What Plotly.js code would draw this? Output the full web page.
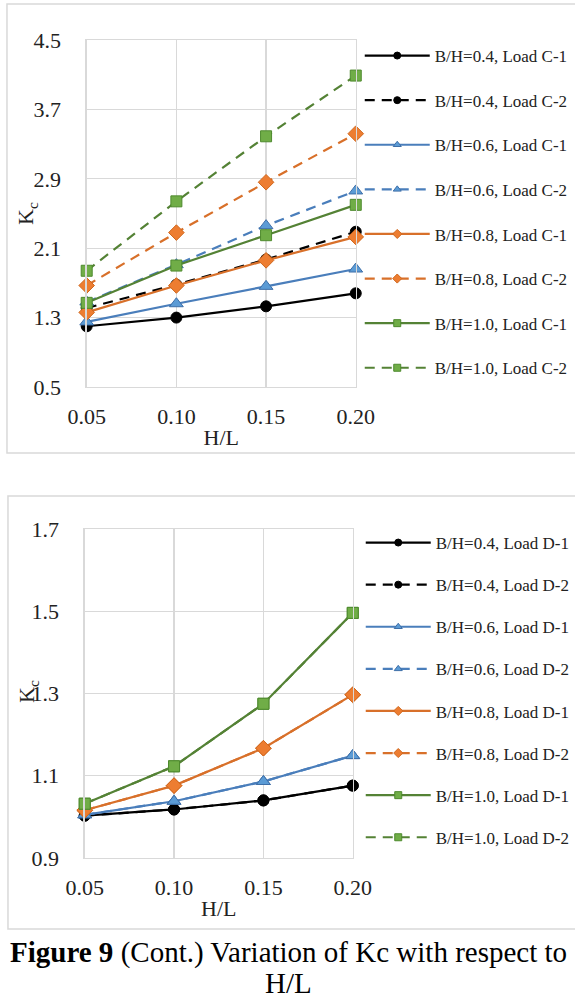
<!DOCTYPE html>
<html>
<head>
<meta charset="utf-8">
<script src="https://cdn.plot.ly/plotly-3.0.1.min.js"></script>
<style>html,body{margin:0;padding:0;background:#fff;}#chart{width:575px;height:1000px;}</style>
</head>
<body>
<div id="chart"></div>
<script>
// ---- data ----
const hL = [0.05, 0.10, 0.15, 0.20];
const hLTicks = ["0.05", "0.10", "0.15", "0.20"];

// Top chart (Load C)
const c1_04 = [1.20, 1.30, 1.43, 1.58];
const c2_04 = [1.41, 1.68, 1.97, 2.29];
const c1_06 = [1.25, 1.46, 1.66, 1.86];
const c2_06 = [1.48, 1.91, 2.36, 2.76];
const c1_08 = [1.36, 1.67, 1.96, 2.23];
const c2_08 = [1.67, 2.28, 2.86, 3.42];
const c1_10 = [1.47, 1.90, 2.25, 2.60];
const c2_10 = [1.84, 2.64, 3.39, 4.09];

// Bottom chart (Load D)
const d1_04 = [1.003, 1.018, 1.040, 1.076];
const d2_04 = [1.003, 1.018, 1.040, 1.076];
const d1_06 = [1.005, 1.038, 1.086, 1.149];
const d2_06 = [1.005, 1.038, 1.086, 1.149];
const d1_08 = [1.016, 1.076, 1.167, 1.297];
const d2_08 = [1.016, 1.076, 1.167, 1.297];
const d1_10 = [1.032, 1.123, 1.275, 1.496];
const d2_10 = [1.032, 1.123, 1.275, 1.496];

const namesC = ["B/H=0.4, Load C-1","B/H=0.4, Load C-2","B/H=0.6, Load C-1","B/H=0.6, Load C-2",
                "B/H=0.8, Load C-1","B/H=0.8, Load C-2","B/H=1.0, Load C-1","B/H=1.0, Load C-2"];
const namesD = ["B/H=0.4, Load D-1","B/H=0.4, Load D-2","B/H=0.6, Load D-1","B/H=0.6, Load D-2",
                "B/H=0.8, Load D-1","B/H=0.8, Load D-2","B/H=1.0, Load D-1","B/H=1.0, Load D-2"];

// ---- styles ----
const styles = [
  {line:"#000000", fill:"#000000", edge:"#000000", sym:"circle", size:11},
  {line:"#4A7EBB", fill:"#5B9BD5", edge:"#3E6FA8", sym:"triangle-up", size:12},
  {line:"#D8702A", fill:"#ED7D31", edge:"#D0681E", sym:"diamond", size:12},
  {line:"#548235", fill:"#70AD47", edge:"#4E8A2E", sym:"square", size:11}
];

const seriesC = [c1_04, c2_04, c1_06, c2_06, c1_08, c2_08, c1_10, c2_10];
const seriesD = [d1_04, d2_04, d1_06, d2_06, d1_08, d2_08, d1_10, d2_10];

const traces = [];
const legendKeys = [];
function addSet(series, names, xa, ya, leg, grpPrefix) {
  series.forEach((ys, i) => {
    const st = styles[Math.floor(i / 2)];
    const dashed = i % 2 === 1;
    const lineStyle = {color: st.line, width: 2.2, dash: dashed ? "10px,7px" : "solid"};
    traces.push({
      x: hL, y: ys, name: names[i], type: "scatter", mode: "lines+markers",
      xaxis: xa, yaxis: ya, showlegend: false, legendgroup: grpPrefix + i,
      cliponaxis: false, line: lineStyle,
      marker: {symbol: st.sym, size: st.size, color: st.fill, line: {color: st.edge, width: 1}}
    });
    // legend key (no data points; smaller marker as in the reference legend)
    legendKeys.push({
      x: [null], y: [null], name: names[i], type: "scatter", mode: "lines+markers",
      xaxis: xa, yaxis: ya, legend: leg, legendgroup: grpPrefix + i, showlegend: true,
      line: lineStyle,
      marker: {symbol: st.sym, size: 7, color: st.fill, line: {color: st.edge, width: 1}}
    });
  });
}
addSet(seriesC, namesC, "x", "y", "legend", "c");
addSet(seriesD, namesD, "x2", "y2", "legend2", "d");

const W = 575, H = 1000;
const fx = p => p / W, fy = p => 1 - p / H;
const serif = "Liberation Serif, Times New Roman, serif";
const tickFont = {family: serif, size: 22, color: "#222"};
const grid = "#D9D9D9";

function xAxis(dom, anchor) {
  return {domain: dom, anchor: anchor, range: [0.05, 0.20], tickvals: hL, ticktext: hLTicks,
    showgrid: true, gridcolor: grid, gridwidth: 1.3, zeroline: false, showline: true, linecolor: grid,
    linewidth: 1.3, mirror: true, ticks: "", tickfont: tickFont, ticklabelstandoff: 9,
    title: {text: "H/L", font: {family: serif, size: 22, color: "#222"}, standoff: 2}};
}
function yAxis(dom, anchor, r, dt) {
  return {domain: dom, anchor: anchor, range: r, tick0: r[0], dtick: dt, tickformat: ".1f",
    showgrid: true, gridcolor: grid, gridwidth: 1.3, zeroline: false, showline: true, linecolor: grid,
    linewidth: 1.3, mirror: true, ticks: "", tickfont: tickFont, ticklabelstandoff: 20};
}

const legendBase = {
  font: {family: serif, size: 17, color: "#222"}, bgcolor: "rgba(0,0,0,0)",
  xanchor: "left", yanchor: "top", traceorder: "grouped", itemwidth: 65, itemsizing: "trace"
};

const layout = {
  width: W, height: H, margin: {l: 0, r: 0, t: 0, b: 0},
  paper_bgcolor: "#fff", plot_bgcolor: "#fff", showlegend: true,
  xaxis: xAxis([fx(87), fx(357)], "y"),
  yaxis: yAxis([fy(387), fy(40)], "x", [0.5, 4.5], 0.8),
  xaxis2: xAxis([fx(85), fx(354)], "y2"),
  yaxis2: yAxis([fy(858), fy(529)], "x2", [0.9, 1.7], 0.2),
  legend: Object.assign({}, legendBase, {x: fx(361), y: fy(38), tracegroupgap: 19.5}),
  legend2: Object.assign({}, legendBase, {x: fx(362), y: fy(525), tracegroupgap: 17}),
  shapes: [
    {type: "rect", xref: "paper", yref: "paper", x0: fx(7), x1: fx(590), y0: fy(453), y1: fy(4),
     line: {color: "#D9D9D9", width: 1.5}, layer: "below"},
    {type: "rect", xref: "paper", yref: "paper", x0: fx(8), x1: fx(590), y0: fy(929), y1: fy(496),
     line: {color: "#D9D9D9", width: 1.5}, layer: "below"}
  ],
  annotations: [
    {xref: "paper", yref: "paper", x: fx(27), y: fy(213), xanchor: "center", yanchor: "middle",
     text: "K<sub>c</sub>", showarrow: false, textangle: -90, font: {family: serif, size: 22, color: "#222"}},
    {xref: "paper", yref: "paper", x: fx(28), y: fy(691), xanchor: "center", yanchor: "middle",
     text: "K<sub>c</sub>", showarrow: false, textangle: -90, font: {family: serif, size: 22, color: "#222"}},
    {xref: "paper", yref: "paper", x: fx(290), y: fy(952), xanchor: "center", yanchor: "middle",
     text: "<b>Figure 9</b> (Cont.) Variation of Kc with respect to",
     showarrow: false, font: {family: serif, size: 29, color: "#000"}},
    {xref: "paper", yref: "paper", x: fx(290), y: fy(983), xanchor: "center", yanchor: "middle",
     text: "H/L", showarrow: false, font: {family: serif, size: 29, color: "#000"}}
  ]
};

Plotly.newPlot("chart", traces.concat(legendKeys), layout, {staticPlot: true, displayModeBar: false});
</script>
</body>
</html>
